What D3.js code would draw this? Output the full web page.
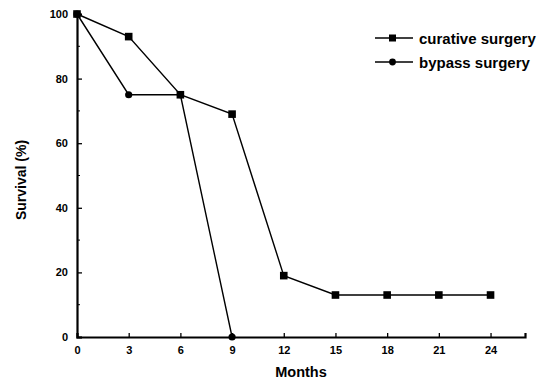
<!DOCTYPE html>
<html>
<head>
<meta charset="utf-8">
<script src="https://cdn.jsdelivr.net/npm/d3@7"></script>
<style>
  body { margin: 0; background: #fff; }
  svg { font-family: "Liberation Sans", Arial, sans-serif; }
</style>
</head>
<body>
<svg id="chart" width="548" height="382"></svg>
<script>
// values
let months = [0, 3, 6, 9, 12, 15, 18, 21, 24];
let curative = [100, 93, 75, 69, 19, 13, 13, 13, 13];
let bypassMonths = [0, 3, 6, 9];
let bypass = [100, 75, 75, 0];
let yTicks = [0, 20, 40, 60, 80, 100];
let legendLabels = ['curative surgery', 'bypass surgery'];

let svg = d3.select('#chart');
let x = d3.scaleLinear().domain([0, 26]).range([77, 525]);
let y = d3.scaleLinear().domain([0, 100]).range([337, 14]);

let g = svg.append('g');

// axes
let xAxis = d3.axisBottom(x).tickValues(months).tickSize(-4).tickPadding(9);
let yAxis = d3.axisLeft(y).tickValues(yTicks).tickSize(-5).tickPadding(9);

let gx = g.append('g').attr('transform', `translate(0,${y(0)})`).call(xAxis);
let gy = g.append('g').attr('transform', `translate(${x(0)},0)`).call(yAxis);

[gx, gy].forEach(a => {
    a.select('.domain').attr('stroke', '#000').attr('stroke-width', 2.2);
    a.selectAll('.tick line').attr('stroke', '#000').attr('stroke-width', 1.3);
    a.selectAll('.tick text').attr('fill', '#000')
        .attr('font-size', 11).attr('font-weight', 'bold');
});

// minor y ticks
g.selectAll('.minor').data([10, 30, 50, 70, 90]).enter().append('line')
    .attr('x1', x(0)).attr('x2', x(0) + 3)
    .attr('y1', d => y(d)).attr('y2', d => y(d))
    .attr('stroke', '#000').attr('stroke-width', 1);

// titles
g.append('text').attr('x', 301).attr('y', 377).attr('text-anchor', 'middle')
    .attr('font-size', 14.5).attr('font-weight', 'bold').text('Months');
g.append('text').attr('transform', 'translate(26,180) rotate(-90)')
    .attr('text-anchor', 'middle').attr('font-size', 14).attr('font-weight', 'bold')
    .text('Survival (%)');

let line = d3.line().x(d => x(d[0])).y(d => y(d[1]));
let cData = months.map((m, i) => [m, curative[i]]);
let bData = bypassMonths.map((m, i) => [m, bypass[i]]);

g.append('path').datum(bData).attr('d', line)
    .attr('fill', 'none').attr('stroke', '#000').attr('stroke-width', 1.4);
g.append('path').datum(cData).attr('d', line)
    .attr('fill', 'none').attr('stroke', '#000').attr('stroke-width', 1.4);

g.selectAll('.bpt').data(bData).enter().append('circle')
    .attr('cx', d => x(d[0])).attr('cy', d => y(d[1])).attr('r', 3.6).attr('fill', '#000');
g.selectAll('.cpt').data(cData).enter().append('rect')
    .attr('x', d => x(d[0]) - 3.8).attr('y', d => y(d[1]) - 3.8)
    .attr('width', 7.6).attr('height', 7.6).attr('fill', '#000');

// legend
let leg = g.append('g');
legendLabels.forEach((lab, i) => {
    let ly = 38 + i * 24;
    leg.append('line').attr('x1', 375).attr('x2', 413).attr('y1', ly).attr('y2', ly)
        .attr('stroke', '#000').attr('stroke-width', 1.3);
    if (i === 0) {
        leg.append('rect').attr('x', 389).attr('y', ly - 3.5).attr('width', 7).attr('height', 7).attr('fill', '#000');
    } else {
        leg.append('circle').attr('cx', 392.5).attr('cy', ly).attr('r', 3.4).attr('fill', '#000');
    }
    leg.append('text').attr('x', 419).attr('y', ly + 5.5).attr('font-size', 15)
        .attr('font-weight', 'bold').text(lab);
});
</script>
</body>
</html>
